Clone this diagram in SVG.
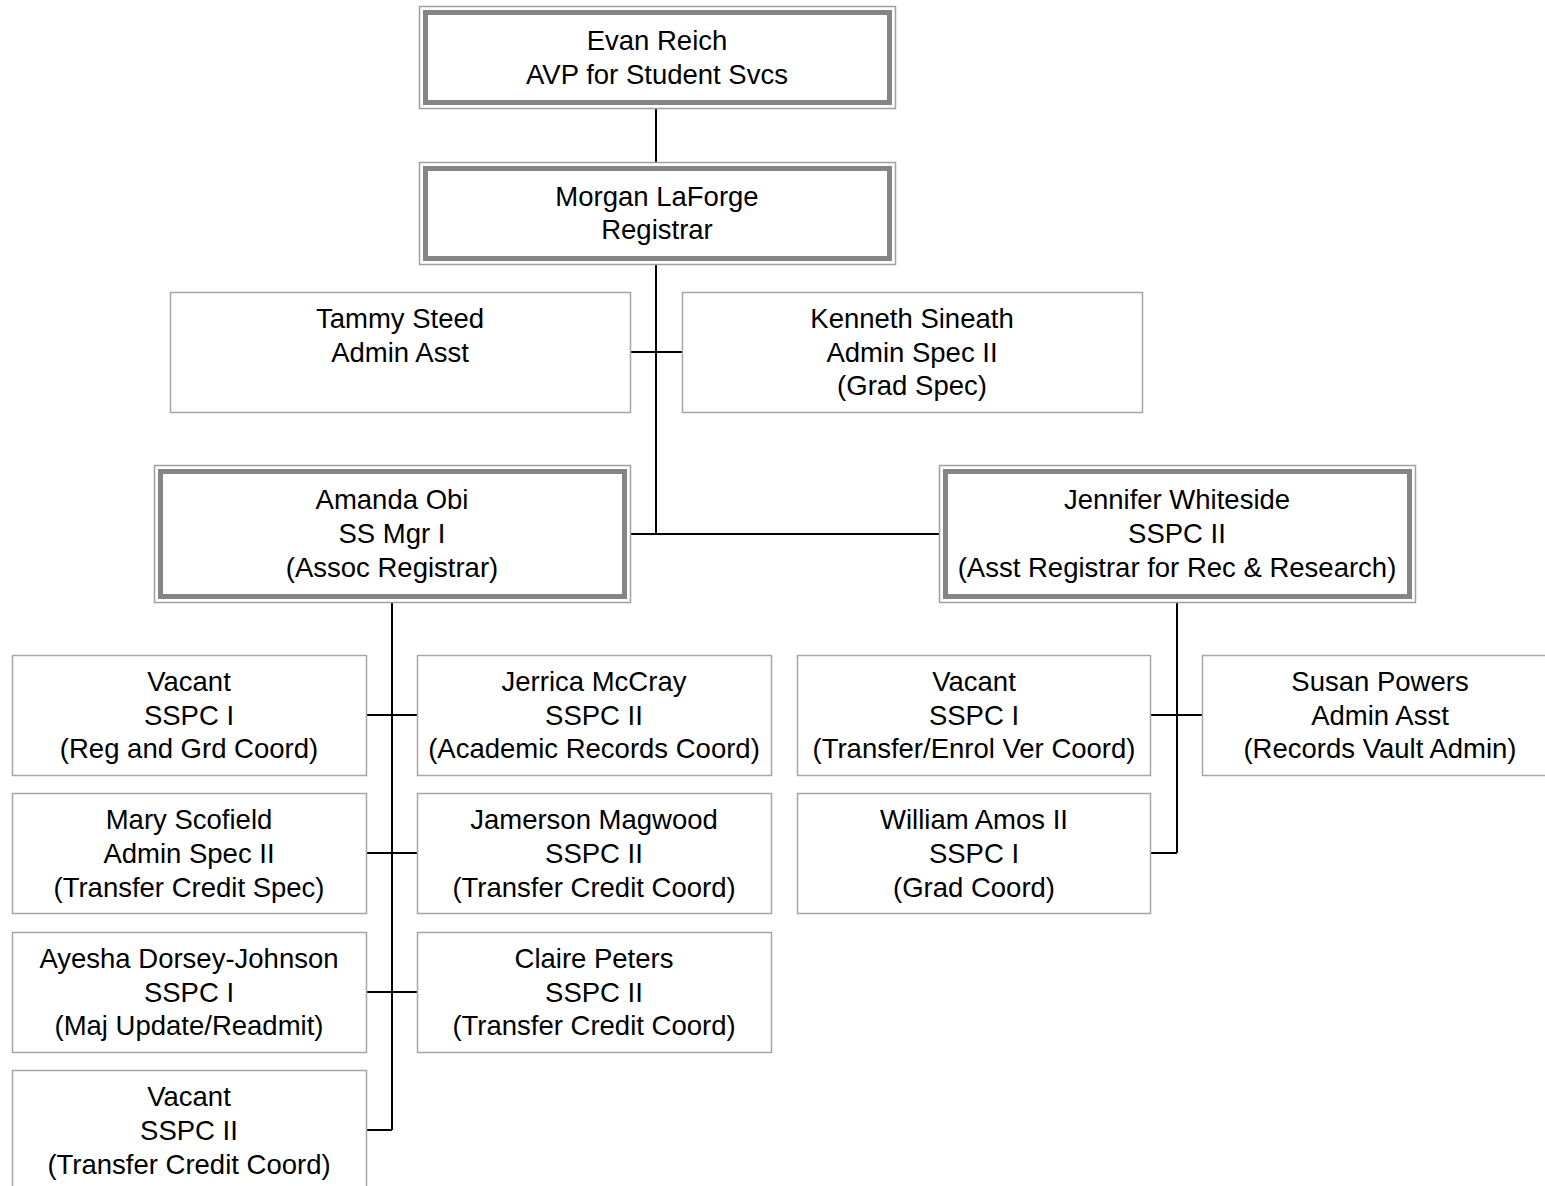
<svg xmlns="http://www.w3.org/2000/svg" width="1545" height="1186" viewBox="0 0 1545 1186">
<style>
.box{fill:#fff;stroke:#a6a6a6;stroke-width:1.5}
.outer{fill:#fff;stroke:#a0a0a0;stroke-width:1.5}
.inner{fill:none;stroke:#858585;stroke-width:5}
.t{font-family:"Liberation Sans",Arial,sans-serif;font-size:27.5px;fill:#000;text-anchor:middle}
.c{stroke:#000;stroke-width:2;fill:none}
</style>
<rect width="1545" height="1186" fill="#fff"/>
<g id="connectors">
<path class="c" d="M656,108V162M656,264V534M630,352H682M630,534H939"/>
<path class="c" d="M392,602V1130M366,715H417M366,853H417M366,992H417M366,1130H392"/>
<path class="c" d="M1177,602V853M1150,715H1202M1150,853H1177"/>
</g>
<g id="evan">
<rect class="outer" x="419.5" y="6.5" width="476" height="102"/>
<rect class="inner" x="425.5" y="12.5" width="464" height="90"/>
<text class="t" x="657" y="50">Evan Reich</text>
<text class="t" x="657" y="84">AVP for Student Svcs</text>
</g>
<g id="morgan">
<rect class="outer" x="419.5" y="162.5" width="476" height="102"/>
<rect class="inner" x="425.5" y="168.5" width="464" height="90"/>
<text class="t" x="657" y="206">Morgan LaForge</text>
<text class="t" x="657" y="239">Registrar</text>
</g>
<g id="tammy">
<rect class="box" x="170.5" y="292.5" width="460" height="120"/>
<text class="t" x="400" y="328">Tammy Steed</text>
<text class="t" x="400" y="362">Admin Asst</text>
</g>
<g id="kenneth">
<rect class="box" x="682.5" y="292.5" width="460" height="120"/>
<text class="t" x="912" y="328">Kenneth Sineath</text>
<text class="t" x="912" y="362">Admin Spec II</text>
<text class="t" x="912" y="395">(Grad Spec)</text>
</g>
<g id="amanda">
<rect class="outer" x="154.5" y="465.5" width="476" height="137"/>
<rect class="inner" x="160.5" y="471.5" width="464" height="125"/>
<text class="t" x="392" y="509">Amanda Obi</text>
<text class="t" x="392" y="543">SS Mgr I</text>
<text class="t" x="392" y="577">(Assoc Registrar)</text>
</g>
<g id="jennifer">
<rect class="outer" x="939.5" y="465.5" width="476" height="137"/>
<rect class="inner" x="945.5" y="471.5" width="464" height="125"/>
<text class="t" x="1177" y="509">Jennifer Whiteside</text>
<text class="t" x="1177" y="543">SSPC II</text>
<text class="t" x="1177" y="577">(Asst Registrar for Rec &amp; Research)</text>
</g>
<g id="vacant1">
<rect class="box" x="12.5" y="655.5" width="354" height="120"/>
<text class="t" x="189" y="691">Vacant</text>
<text class="t" x="189" y="725">SSPC I</text>
<text class="t" x="189" y="758">(Reg and Grd Coord)</text>
</g>
<g id="jerrica">
<rect class="box" x="417.5" y="655.5" width="354" height="120"/>
<text class="t" x="594" y="691">Jerrica McCray</text>
<text class="t" x="594" y="725">SSPC II</text>
<text class="t" x="594" y="758">(Academic Records Coord)</text>
</g>
<g id="mary">
<rect class="box" x="12.5" y="793.5" width="354" height="120"/>
<text class="t" x="189" y="829">Mary Scofield</text>
<text class="t" x="189" y="863">Admin Spec II</text>
<text class="t" x="189" y="897">(Transfer Credit Spec)</text>
</g>
<g id="jamerson">
<rect class="box" x="417.5" y="793.5" width="354" height="120"/>
<text class="t" x="594" y="829">Jamerson Magwood</text>
<text class="t" x="594" y="863">SSPC II</text>
<text class="t" x="594" y="897">(Transfer Credit Coord)</text>
</g>
<g id="ayesha">
<rect class="box" x="12.5" y="932.5" width="354" height="120"/>
<text class="t" x="189" y="968">Ayesha Dorsey-Johnson</text>
<text class="t" x="189" y="1002">SSPC I</text>
<text class="t" x="189" y="1035">(Maj Update/Readmit)</text>
</g>
<g id="claire">
<rect class="box" x="417.5" y="932.5" width="354" height="120"/>
<text class="t" x="594" y="968">Claire Peters</text>
<text class="t" x="594" y="1002">SSPC II</text>
<text class="t" x="594" y="1035">(Transfer Credit Coord)</text>
</g>
<g id="vacant2">
<rect class="box" x="12.5" y="1070.5" width="354" height="130"/>
<text class="t" x="189" y="1106">Vacant</text>
<text class="t" x="189" y="1140">SSPC II</text>
<text class="t" x="189" y="1174">(Transfer Credit Coord)</text>
</g>
<g id="vacant3">
<rect class="box" x="797.5" y="655.5" width="353" height="120"/>
<text class="t" x="974" y="691">Vacant</text>
<text class="t" x="974" y="725">SSPC I</text>
<text class="t" x="974" y="758">(Transfer/Enrol Ver Coord)</text>
</g>
<g id="susan">
<rect class="box" x="1202.5" y="655.5" width="360" height="120"/>
<text class="t" x="1380" y="691">Susan Powers</text>
<text class="t" x="1380" y="725">Admin Asst</text>
<text class="t" x="1380" y="758">(Records Vault Admin)</text>
</g>
<g id="william">
<rect class="box" x="797.5" y="793.5" width="353" height="120"/>
<text class="t" x="974" y="829">William Amos II</text>
<text class="t" x="974" y="863">SSPC I</text>
<text class="t" x="974" y="897">(Grad Coord)</text>
</g>
</svg>
